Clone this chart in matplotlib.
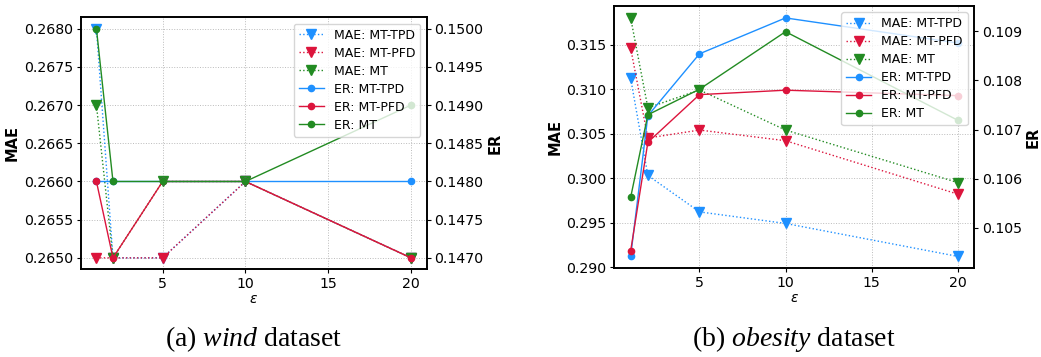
import matplotlib
matplotlib.use('Agg')
import matplotlib.pyplot as plt

plt.rcParams['mathtext.fontset'] = 'custom'
plt.rcParams['mathtext.rm'] = 'Liberation Serif'
plt.rcParams['mathtext.it'] = 'Liberation Serif:italic'

eps = [1, 2, 5, 10, 20]
labels = ['MT-TPD', 'MT-PFD', 'MT']
colors = ['dodgerblue', 'crimson', 'forestgreen']

# wind dataset
wind_mae_tpd = [0.2680, 0.2650, 0.2650, 0.2660, 0.2650]
wind_mae_pfd = [0.2650, 0.2650, 0.2650, 0.2660, 0.2650]
wind_mae_mt = [0.2670, 0.2650, 0.2660, 0.2660, 0.2650]
wind_er_tpd = [0.1480, 0.1480, 0.1480, 0.1480, 0.1480]
wind_er_pfd = [0.1480, 0.1470, 0.1480, 0.1480, 0.1470]
wind_er_mt = [0.1500, 0.1480, 0.1480, 0.1480, 0.1490]

# obesity dataset
ob_mae_tpd = [0.3112, 0.3003, 0.2962, 0.2949, 0.2912]
ob_mae_pfd = [0.3146, 0.3045, 0.3054, 0.3042, 0.2982]
ob_mae_mt = [0.3180, 0.3079, 0.3099, 0.3054, 0.2995]
ob_er_tpd = [0.10442, 0.10728, 0.10854, 0.10927, 0.10876]
ob_er_pfd = [0.10453, 0.10674, 0.10771, 0.10780, 0.10769]
ob_er_mt = [0.10562, 0.10730, 0.10782, 0.10899, 0.10719]

W, H = 1041, 357


def panel(fig, rect, maes, ers, cap_x, caption):
    ax = fig.add_axes(rect)
    ax2 = ax.twinx()
    handles = []
    for m, lab, c in zip(maes, labels, colors):
        h, = ax.plot(eps, m, linestyle=':', marker='v', color=c, lw=1.0,
                     markersize=6.5, label='MAE: ' + lab)
        handles.append(h)
    for e, lab, c in zip(ers, labels, colors):
        h, = ax2.plot(eps, e, linestyle='-', marker='o', color=c, lw=1.0,
                      markersize=4.5, label='ER: ' + lab)
        handles.append(h)
    ax.set_xlabel('ε', fontsize=10, fontstyle='italic', labelpad=1)
    ax.set_ylabel('MAE', fontsize=10.5, fontweight='bold', labelpad=3)
    ax2.set_ylabel('ER', fontsize=10.5, fontweight='bold', labelpad=3)
    ax.tick_params(labelsize=10.2, length=3, pad=2.5)
    ax2.tick_params(labelsize=10.2, length=3, pad=2.5)
    ax.set_xticks([5, 10, 15, 20])
    ax.grid(True, linestyle=':', color='#bbbbbb', linewidth=0.7)
    for a in (ax, ax2):
        for s in a.spines.values():
            s.set_linewidth(1.2)
    ax2.legend(handles=handles, loc='upper right', fontsize=9,
               labelspacing=0.4)
    fig.text(cap_x, 0.031, caption, fontsize=20, family='Liberation Serif',
             ha='center', va='baseline')
    return ax, ax2


fig = plt.figure(figsize=(W / 100, H / 100), dpi=100)
panel(fig, [80.7 / W, 1 - 269.3 / H, 346 / W, 252 / H],
      [wind_mae_tpd, wind_mae_pfd, wind_mae_mt],
      [wind_er_tpd, wind_er_pfd, wind_er_mt],
      254 / W, r'(a) $\mathit{wind}$ dataset')
panel(fig, [614.3 / W, 1 - 268.3 / H, 359.7 / W, 262.3 / H],
      [ob_mae_tpd, ob_mae_pfd, ob_mae_mt],
      [ob_er_tpd, ob_er_pfd, ob_er_mt],
      794 / W, r'(b) $\mathit{obesity}$ dataset')
fig.savefig('out.png', dpi=100)
